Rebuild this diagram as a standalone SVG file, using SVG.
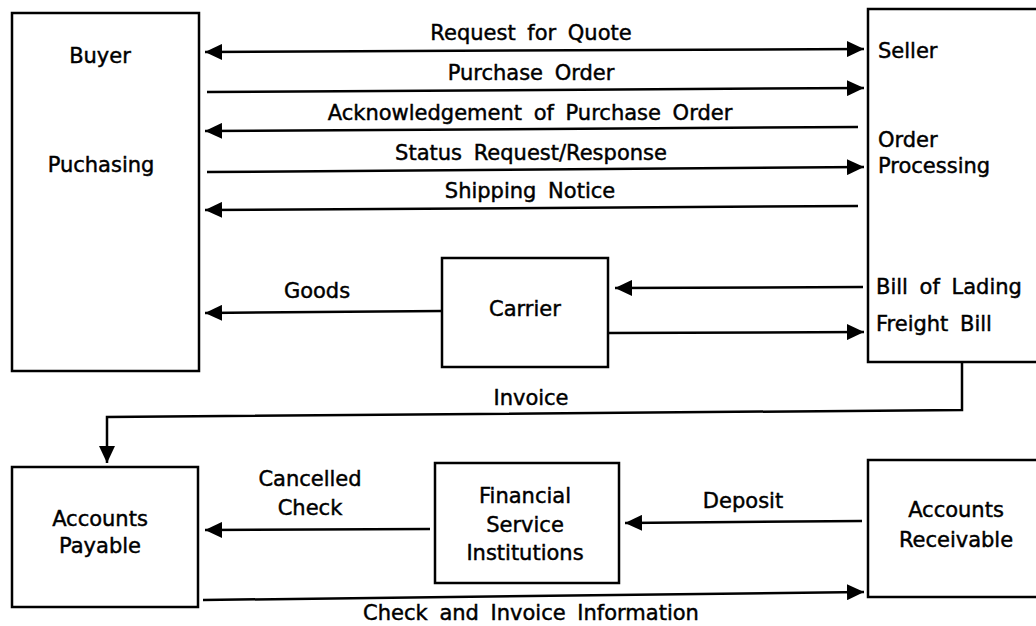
<svg xmlns="http://www.w3.org/2000/svg" width="1036" height="626" viewBox="0 0 1036 626">
<style>
text{font-family:"DejaVu Sans","Liberation Sans",sans-serif;font-size:21px;fill:#000;stroke:#000;stroke-width:0.45;word-spacing:5px}
.c{text-anchor:middle}
.box{fill:#fff;stroke:#000;stroke-width:2.5}
.ln{fill:none;stroke:#000;stroke-width:2.5}
</style>
<defs>
<marker id="ah" markerUnits="userSpaceOnUse" markerWidth="17" markerHeight="16" refX="17" refY="8" orient="auto-start-reverse">
<path d="M0,0 L17,8 L0,16 z" fill="#000"/>
</marker>
</defs>
<rect width="1036" height="626" fill="#fff"/>
<g id="buyer">
<rect class="box" x="12" y="13" width="187" height="358"/>
<text class="c" x="100" y="63">Buyer</text>
<text class="c" x="101" y="172">Puchasing</text>
</g>
<g id="seller">
<rect class="box" x="868" y="9" width="180" height="353"/>
<text x="878" y="58">Seller</text>
<text x="878" y="147">Order</text>
<text x="878" y="173">Processing</text>
<text x="876" y="294">Bill of Lading</text>
<text x="876" y="331">Freight Bill</text>
</g>
<g id="carrier">
<rect class="box" x="442" y="258" width="166" height="109"/>
<text class="c" x="525" y="316">Carrier</text>
</g>
<g id="payable">
<rect class="box" x="12" y="467" width="186" height="140"/>
<text class="c" x="100" y="526">Accounts</text>
<text class="c" x="100" y="553">Payable</text>
</g>
<g id="financial">
<rect class="box" x="435" y="463" width="184" height="120"/>
<text class="c" x="525" y="503">Financial</text>
<text class="c" x="525" y="532">Service</text>
<text class="c" x="525" y="560">Institutions</text>
</g>
<g id="receivable">
<rect class="box" x="868" y="460" width="180" height="137"/>
<text class="c" x="956" y="517">Accounts</text>
<text class="c" x="956" y="547">Receivable</text>
</g>
<g id="connectors">
<line class="ln" x1="205" y1="52" x2="864" y2="49" marker-start="url(#ah)" marker-end="url(#ah)"/>
<line class="ln" x1="207" y1="92" x2="864" y2="88" marker-end="url(#ah)"/>
<line class="ln" x1="858" y1="127" x2="205" y2="131" marker-end="url(#ah)"/>
<line class="ln" x1="207" y1="172" x2="864" y2="167" marker-end="url(#ah)"/>
<line class="ln" x1="858" y1="206" x2="205" y2="210" marker-end="url(#ah)"/>
<line class="ln" x1="863" y1="287" x2="615" y2="288" marker-end="url(#ah)"/>
<line class="ln" x1="609" y1="333" x2="864" y2="332" marker-end="url(#ah)"/>
<line class="ln" x1="442" y1="311" x2="205" y2="313" marker-end="url(#ah)"/>
<polyline class="ln" points="962,362 962,410 107,417 107,463" marker-end="url(#ah)"/>
<line class="ln" x1="430" y1="529" x2="205" y2="530" marker-end="url(#ah)"/>
<line class="ln" x1="862" y1="521" x2="625" y2="523" marker-end="url(#ah)"/>
<line class="ln" x1="203" y1="600" x2="864" y2="592" marker-end="url(#ah)"/>
<text class="c" x="531" y="40">Request for Quote</text>
<text class="c" x="531" y="80">Purchase Order</text>
<text class="c" x="530" y="120">Acknowledgement of Purchase Order</text>
<text class="c" x="531" y="160">Status Request/Response</text>
<text class="c" x="530" y="198">Shipping Notice</text>
<text class="c" x="317" y="298">Goods</text>
<text class="c" x="531" y="405">Invoice</text>
<text class="c" x="310" y="486">Cancelled</text>
<text class="c" x="310" y="515">Check</text>
<text class="c" x="743" y="508">Deposit</text>
<text class="c" x="531" y="620">Check and Invoice Information</text>
</g>
</svg>
